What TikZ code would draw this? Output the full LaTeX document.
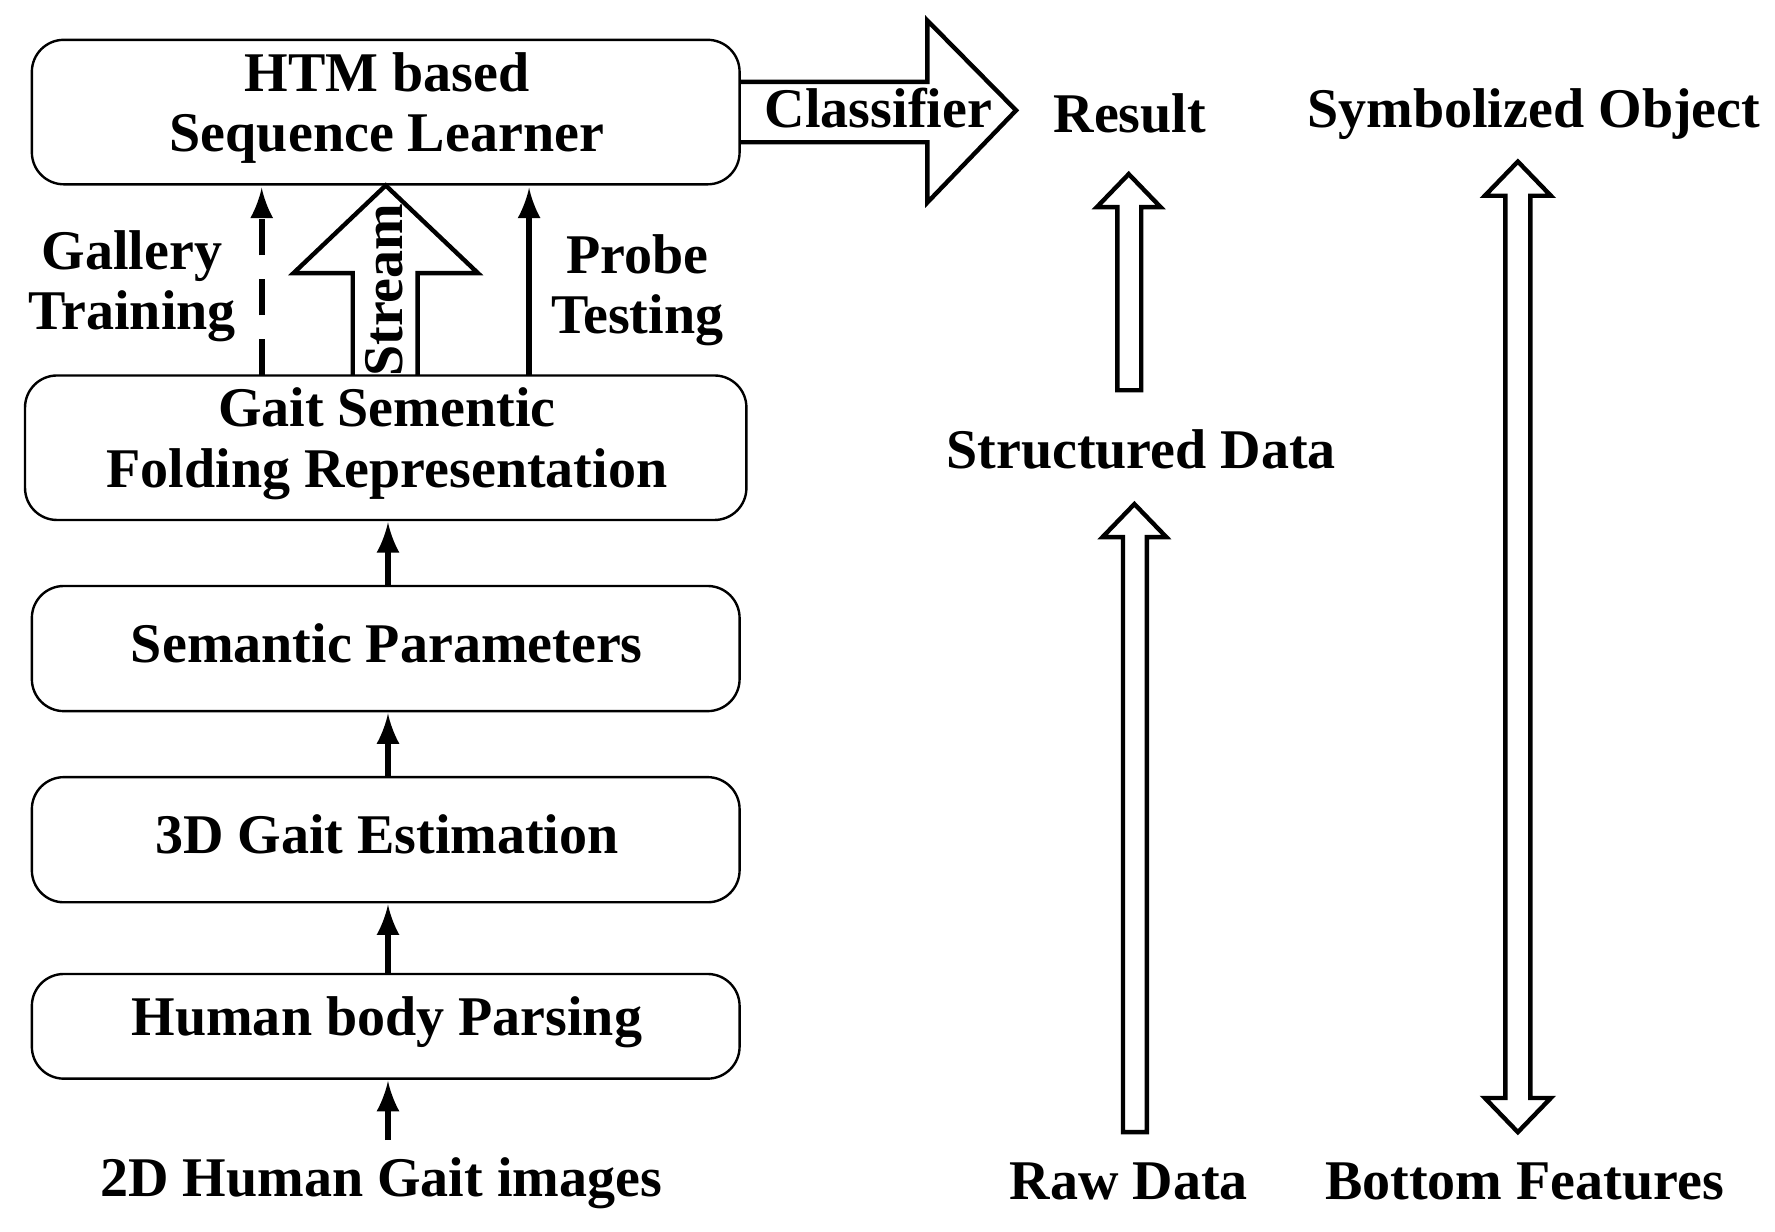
\documentclass[tikz,border=0pt]{standalone}
\usepackage{fontspec}
\setmainfont{Liberation Serif}
\begin{document}
\begin{tikzpicture}[x=0.01cm,y=-0.01cm,
  box/.style={draw,line width=0.6pt,rounded corners=8pt},
  txt/.style={font=\bfseries\fontsize{14}{15}\selectfont,align=center,inner sep=0pt},
  arr/.style={-latex,line width=1.6pt},
  hol/.style={draw,line width=1.1pt,line join=miter}]
\useasboundingbox (0,0) rectangle (1560,1082);
\draw[box] (28,35) rectangle (650,162);
\draw[box] (22,330) rectangle (656,457);
\draw[box] (28,515) rectangle (650,625);
\draw[box] (28,683) rectangle (650,793);
\draw[box] (28,856) rectangle (650,948);
\node[txt] (htm) at (340,95) {HTM based\\Sequence Learner};
\node[txt] (gsf) at (340,390) {Gait Sementic\\Folding Representation};
\node[txt] (sp) at (340,565) {Semantic Parameters};
\node[txt] (ge) at (340,733) {3D Gait Estimation};
\node[txt] (hp) at (340,898) {Human body Parsing};
\node[txt] (img) at (335,1040) {2D Human Gait images};
\coordinate (a0) at (341,1002); \coordinate (a1) at (341,950);
\coordinate (b0) at (341,856); \coordinate (b1) at (341,795);
\coordinate (c0) at (341,683); \coordinate (c1) at (341,627);
\coordinate (d0) at (341,515); \coordinate (d1) at (341,459);
\draw[arr] (a0)--(a1); \draw[arr] (b0)--(b1); \draw[arr] (c0)--(c1); \draw[arr] (d0)--(d1);
\coordinate (g0) at (230,330); \coordinate (g1) at (230,165);
\coordinate (p0) at (465,330); \coordinate (p1) at (465,165);
\draw[arr,dash pattern=on 9pt off 6pt] (g0)--(g1);
\draw[arr] (p0)--(p1);
\draw[hol] (310,330)--(310,240)--(258,240)--(339,163)--(420,240)--(367,240)--(367,330);
\node[txt,rotate=90] (st) at (338,255) {Stream};
\node[txt] (gt) at (116,252) {Gallery\\Training};
\node[txt] (pt) at (560,255) {Probe\\Testing};
\draw[hol] (651,72)--(815,72)--(815,18)--(893,97)--(815,178)--(815,125)--(651,125);
\node[txt] (cl) at (772,95) {Classifier};
\node[txt] (res) at (993,100) {Result};
\node[txt] (so) at (1348,100) {Symbolized Object};
\node[txt] (sd) at (1003,395) {Structured Data};
\node[txt] (rd) at (992,1038) {Raw Data};
\node[txt] (bf) at (1340,1038) {Bottom Features};
\draw[hol] (982,343)--(982,182)--(964,182)--(992,153)--(1020,182)--(1003,182)--(1003,343)--cycle;
\draw[hol] (987,995)--(987,472)--(969,472)--(997,443)--(1025,472)--(1008,472)--(1008,995)--cycle;
\draw[hol] (1323,172)--(1305,172)--(1334,142)--(1363,172)--(1345,172)--(1345,965)--(1363,965)--(1334,995)--(1305,965)--(1323,965)--cycle;
\end{tikzpicture}
\end{document}
